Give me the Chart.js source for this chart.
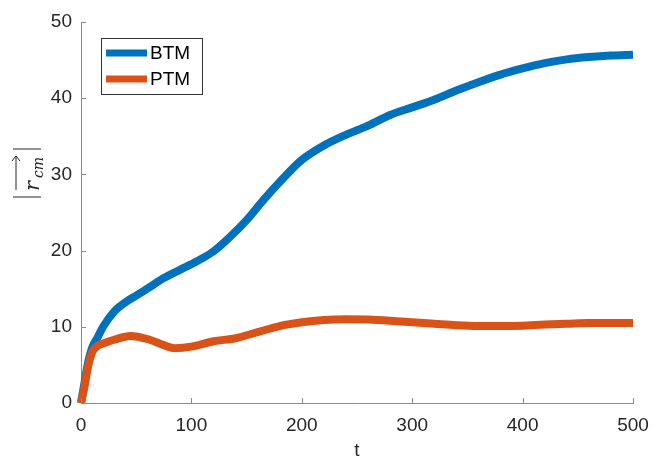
<!DOCTYPE html>
<html>
<head>
<meta charset="utf-8">
<script src="https://cdn.jsdelivr.net/npm/chart.js@4.4.1/dist/chart.umd.min.js"></script>
<style>
  html,body{margin:0;padding:0;background:#fff;}
  #wrap{width:653px;height:457px;}
</style>
</head>
<body>
<div id="wrap"><canvas id="c" width="653" height="457"></canvas></div>
<script>
// ---------- DATA ----------
const btmT = [0,3,6,10,15,20,30,40,50,60,75,90,105,120,135,150,165,180,200,220,240,260,280,300,320,340,360,380,400,420,440,460,480,500];
const btmR = [0,2.5,5,7.2,8.6,10,12,13.2,14.1,15,16.4,17.5,18.6,19.9,21.8,24,26.6,29,31.9,33.8,35.2,36.4,37.8,38.8,39.8,41,42.1,43.1,43.9,44.6,45.1,45.4,45.6,45.7];
const ptmT = [0,3,6,10,15,20,30,45,60,75,85,100,120,140,160,180,200,220,240,260,280,300,320,340,360,380,400,420,440,460,480,500];
const ptmR = [0,2,4.5,6.6,7.5,7.8,8.3,8.8,8.4,7.6,7.2,7.4,8.1,8.5,9.3,10.1,10.6,10.9,11,10.95,10.8,10.6,10.4,10.2,10.1,10.1,10.15,10.3,10.4,10.5,10.5,10.5];
const xTicks = [0,100,200,300,400,500];
const yTicks = [0,10,20,30,40,50];
const seriesNames = ['BTM','PTM'];
const seriesColors = ['#0072BD','#D95319'];

const AXIS = '#8a8a8a', TXT = '#262626', FONT = '"Liberation Sans", Arial, sans-serif';
const pts = (t,r)=>t.map((v,i)=>({x:v,y:r[i]}));

// inward ticks, legend box and axis titles
const decor = {
  id:'decor',
  afterDraw(chart){
    const ctx = chart.ctx, xs = chart.scales.x, ys = chart.scales.y;
    const a = chart.chartArea;
    ctx.save();
    ctx.strokeStyle = AXIS; ctx.lineWidth = 1;
    ctx.beginPath();
    xTicks.forEach(v=>{ const px = Math.round(xs.getPixelForValue(v))+0.5; ctx.moveTo(px,a.bottom); ctx.lineTo(px,a.bottom-5); });
    yTicks.forEach(v=>{ const py = Math.round(ys.getPixelForValue(v))+0.5; ctx.moveTo(a.left,py); ctx.lineTo(a.left+5,py); });
    ctx.stroke();

    // legend
    ctx.fillStyle = '#fff'; ctx.fillRect(101.5,38.5,101,56);
    ctx.strokeStyle = '#333'; ctx.strokeRect(101.5,38.5,101,56);
    seriesNames.forEach((n,i)=>{
      const y = 53 + i*26;
      ctx.strokeStyle = seriesColors[i]; ctx.lineWidth = 7;
      ctx.beginPath(); ctx.moveTo(106,y); ctx.lineTo(147,y); ctx.stroke();
      ctx.fillStyle = '#000'; ctx.font = '19px '+FONT; ctx.textBaseline = 'middle';
      ctx.fillText(n,150,y+1);
    });

    // x title
    ctx.fillStyle = TXT; ctx.font = '19px '+FONT; ctx.textAlign = 'center'; ctx.textBaseline = 'alphabetic';
    ctx.fillText('t', (a.left+a.right)/2, 456);

    // y title |r_cm ->|
    ctx.translate(27,173); ctx.rotate(-Math.PI/2);
    ctx.strokeStyle = TXT; ctx.lineWidth = 1;
    ctx.beginPath();
    ctx.moveTo(-24,-14); ctx.lineTo(-24,14);
    ctx.moveTo(24,-14); ctx.lineTo(24,14);
    ctx.moveTo(-17,-11); ctx.lineTo(17,-11);
    ctx.moveTo(12,-15); ctx.lineTo(17,-11); ctx.lineTo(12,-7);
    ctx.stroke();
    ctx.textAlign = 'left'; ctx.textBaseline = 'alphabetic';
    ctx.font = 'italic 21px "DejaVu Serif", "Liberation Serif", serif';
    ctx.fillText('r', -18, 12);
    ctx.font = 'italic 14px "DejaVu Serif", "Liberation Serif", serif';
    ctx.fillText('cm', -5, 16);
    ctx.restore();
  }
};

new Chart(document.getElementById('c'), {
  type:'line',
  data:{
    datasets:[
      {label:seriesNames[0], data:pts(btmT,btmR), borderColor:seriesColors[0], borderWidth:8, pointRadius:0, cubicInterpolationMode:'monotone', order:1, clip:6},
      {label:seriesNames[1], data:pts(ptmT,ptmR), borderColor:seriesColors[1], borderWidth:8, pointRadius:0, cubicInterpolationMode:'monotone', order:0, clip:6}
    ]
  },
  options:{
    responsive:false, animation:false,
    layout:{padding:{top:22,right:20,left:0,bottom:0}},
    plugins:{legend:{display:false}, tooltip:{enabled:false}},
    scales:{
      x:{type:'linear', min:0, max:500,
        afterFit(s){ s.height = 54; s.paddingRight = 0; },
        afterBuildTicks(s){ s.ticks = xTicks.map(v=>({value:v})); },
        grid:{display:false, drawTicks:false},
        border:{display:true, color:AXIS, width:1},
        ticks:{color:TXT, font:{family:FONT, size:19}, padding:11, maxRotation:0}
      },
      y:{type:'linear', min:0, max:50,
        afterFit(s){ s.width = 81; },
        afterBuildTicks(s){ s.ticks = yTicks.map(v=>({value:v})); },
        grid:{display:false, drawTicks:false},
        border:{display:true, color:AXIS, width:1},
        ticks:{color:TXT, font:{family:FONT, size:19}, padding:9}
      }
    }
  },
  plugins:[decor]
});
</script>
</body>
</html>
